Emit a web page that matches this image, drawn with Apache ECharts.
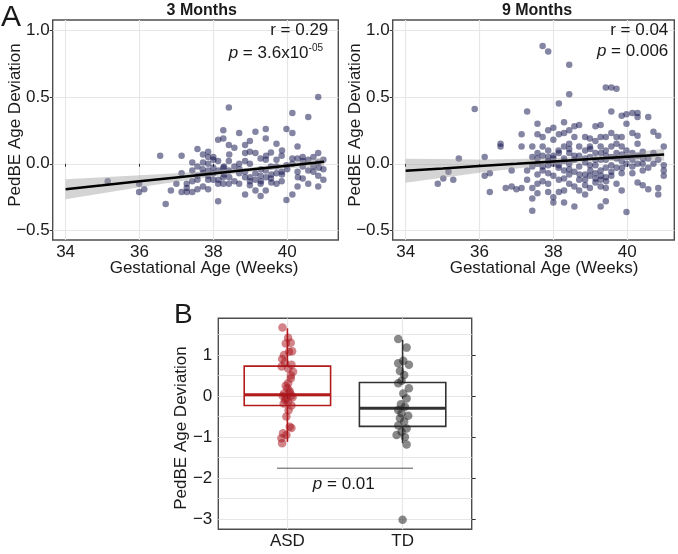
<!DOCTYPE html>
<html><head><meta charset="utf-8">
<script src="https://cdn.jsdelivr.net/npm/echarts@6/dist/echarts.min.js"></script>
<style>html,body{margin:0;padding:0;background:#fff}#c{width:678px;height:554px}</style>
</head><body><div id="c"></div>
<script>
// ---------------- DATA ----------------
// Panel A, 3 months: [gestational age (weeks), PedBE age deviation]
const months3 = [[35.14,-0.13],[35.99,-0.15],[35.99,-0.21],[36.13,-0.19],[36.56,0.06],[36.71,-0.30],[36.85,-0.20],[37.0,-0.15],[37.14,0.06],[37.14,-0.07],[37.14,-0.21],[37.28,-0.15],[37.28,-0.18],[37.28,-0.21],[37.43,0.01],[37.43,-0.05],[37.43,-0.13],[37.43,-0.21],[37.57,0.11],[37.57,-0.02],[37.57,-0.12],[37.57,-0.19],[37.72,0.07],[37.72,0.01],[37.72,-0.07],[37.72,-0.17],[37.86,0.09],[37.86,0.05],[37.86,0.0],[37.86,-0.05],[37.86,-0.12],[37.86,-0.19],[38.0,0.03],[38.0,-0.03],[38.0,-0.07],[38.0,-0.12],[38.13,0.18],[38.13,0.02],[38.13,-0.15],[38.13,-0.28],[38.27,0.25],[38.27,0.19],[38.27,-0.03],[38.27,-0.10],[38.27,-0.15],[38.42,0.42],[38.42,0.14],[38.42,0.02],[38.42,-0.05],[38.42,-0.15],[38.57,0.12],[38.57,-0.02],[38.57,-0.13],[38.70,0.23],[38.70,0.0],[38.70,-0.07],[38.70,-0.15],[38.86,0.14],[38.86,0.08],[38.86,-0.10],[38.86,-0.23],[38.99,0.17],[38.99,0.09],[38.99,0.0],[38.99,-0.13],[38.99,-0.16],[39.14,0.24],[39.14,0.08],[39.14,-0.07],[39.14,-0.20],[39.28,0.04],[39.28,-0.09],[39.28,-0.15],[39.28,-0.24],[39.42,0.26],[39.42,0.19],[39.42,0.03],[39.42,-0.05],[39.42,-0.20],[39.56,0.085],[39.56,-0.02],[39.56,-0.11],[39.71,0.15],[39.71,0.03],[39.71,-0.07],[39.71,-0.15],[39.85,0.06],[39.85,-0.06],[39.85,-0.13],[39.98,0.26],[39.98,-0.01],[39.98,-0.27],[40.14,0.38],[40.14,0.23],[40.14,0.04],[40.14,-0.23],[40.28,0.13],[40.28,0.04],[40.28,-0.06],[40.28,-0.17],[40.42,0.05],[40.42,-0.02],[40.42,-0.11],[40.57,0.35],[40.57,0.03],[40.57,-0.05],[40.57,-0.15],[40.71,0.05],[40.71,-0.02],[40.84,0.50],[40.84,0.08],[40.84,0.01],[40.84,-0.09],[40.84,-0.17],[40.98,0.03],[40.98,-0.04],[40.98,-0.12],
[37.86,-0.09],[38.14,-0.05],[38.14,-0.12],[38.29,-0.08],[38.43,-0.10],[38.71,-0.04],[38.86,-0.06],[39.0,-0.10],[39.14,-0.12],[39.29,-0.04],[39.29,-0.13],[39.43,-0.10],[39.57,-0.08],[39.57,-0.14],[39.71,-0.02],[39.86,-0.08],[40.0,-0.04],[40.14,0.0],[40.29,-0.10],[40.43,0.02],[40.71,-0.06],[40.86,-0.03],[38.0,0.05],[38.43,0.07],[38.86,0.02],[39.43,0.06],[39.86,0.1],[37.57,-0.09],[37.71,-0.04],[38.29,-0.02]];

// Panel A, 9 months
const months9 = [[34.87,-0.15],[35.02,-0.11],[35.16,-0.06],[35.29,-0.12],[35.44,0.04],[35.87,0.41],[36.14,-0.09],[36.14,0.05],[36.28,-0.07],[36.28,-0.21],[36.57,0.15],[36.57,0.13],[36.71,-0.18],[36.87,-0.05],[36.87,-0.17],[37.0,-0.19],[37.14,0.22],[37.14,0.13],[37.14,-0.18],[37.29,0.39],[37.29,-0.05],[37.29,-0.12],[37.43,0.13],[37.43,0.05],[37.43,-0.02],[37.43,-0.18],[37.43,-0.26],[37.43,-0.35],[37.57,0.30],[37.57,0.22],[37.57,0.08],[37.57,0.0],[37.57,-0.08],[37.57,-0.15],[37.57,-0.22],[37.71,0.88],[37.71,0.20],[37.71,0.13],[37.71,0.06],[37.71,-0.05],[37.71,-0.13],[37.86,0.84],[37.86,0.25],[37.86,0.10],[37.86,0.05],[37.86,-0.01],[37.86,-0.07],[37.86,-0.15],[37.86,-0.21],[38.0,0.27],[38.0,0.18],[38.0,0.06],[38.0,0.0],[38.0,-0.09],[38.0,-0.25],[38.0,-0.29],[38.15,0.45],[38.15,0.22],[38.15,0.08],[38.15,-0.01],[38.15,-0.12],[38.15,-0.21],[38.29,0.31],[38.29,0.23],[38.29,0.13],[38.29,0.04],[38.29,-0.05],[38.29,-0.20],[38.29,-0.29],[38.43,0.74],[38.43,0.52],[38.43,0.25],[38.43,0.15],[38.43,0.08],[38.43,0.0],[38.43,-0.08],[38.43,-0.15],[38.57,0.28],[38.57,0.20],[38.57,0.03],[38.57,-0.06],[38.57,-0.17],[38.57,-0.32],[38.70,0.29],[38.70,0.13],[38.70,0.06],[38.70,-0.02],[38.70,-0.12],[38.70,-0.20],[38.86,0.20],[38.86,0.10],[38.86,0.01],[38.86,-0.08],[38.86,-0.16],[38.86,-0.23],[38.99,0.19],[38.99,0.13],[38.99,0.05],[38.99,-0.01],[38.99,-0.09],[38.99,-0.18],[39.14,0.28],[39.14,0.17],[39.14,0.08],[39.14,-0.01],[39.14,-0.07],[39.14,-0.14],[39.28,0.29],[39.28,0.20],[39.28,0.13],[39.28,0.03],[39.28,-0.05],[39.28,-0.12],[39.28,-0.17],[39.28,-0.32],[39.42,0.57],[39.42,0.20],[39.42,0.10],[39.42,0.03],[39.42,-0.03],[39.42,-0.10],[39.42,-0.18],[39.42,-0.28],[39.57,0.57],[39.57,0.39],[39.57,0.23],[39.57,0.13],[39.57,0.05],[39.57,-0.01],[39.57,-0.09],[39.71,0.56],[39.71,0.20],[39.71,0.15],[39.71,0.04],[39.71,-0.03],[39.71,-0.15],[39.85,0.36],[39.85,0.20],[39.85,0.13],[39.85,0.02],[39.85,-0.07],[39.85,-0.20],[39.98,0.37],[39.98,0.30],[39.98,0.10],[39.98,0.0],[39.98,-0.36],[40.14,0.38],[40.14,0.23],[40.14,0.08],[40.14,0.03],[40.14,-0.07],[40.28,0.38],[40.28,0.35],[40.28,0.21],[40.28,0.15],[40.28,0.0],[40.28,-0.14],[40.42,0.09],[40.42,0.0],[40.42,-0.05],[40.42,-0.16],[40.57,0.35],[40.57,0.04],[40.57,-0.03],[40.57,-0.19],[40.71,0.24],[40.71,0.08],[40.71,0.0],[40.84,0.21],[40.84,0.03],[40.84,-0.18],[40.84,-0.23],[40.99,0.13],[40.99,-0.01],[40.99,-0.05],[40.99,-0.09],
[38.0,0.04],[38.14,-0.03],[38.29,0.02],[38.43,-0.04],[38.57,0.06],[38.71,-0.08],[38.86,0.04],[39.0,-0.05],[39.14,0.03],[39.29,-0.09],[39.43,0.06],[39.57,-0.06],[39.71,0.08],[39.86,-0.03],[40.0,0.05],[40.14,-0.02],[40.29,0.06],[37.86,0.02],[37.71,-0.02],[38.29,-0.11],[38.86,-0.12],[39.29,0.08],[39.43,-0.13],[39.0,0.11],[38.43,0.11],[39.86,0.07],[40.43,0.04],[37.57,0.04],[38.14,0.10],[39.14,-0.11]];

// Linear fit and 95% band
const fitX  = [34, 35, 36, 37, 38, 39, 40, 41];
const fit3  = [-0.190, -0.161, -0.131, -0.102, -0.073, -0.043, -0.014, 0.015];
const lo3   = [-0.265, -0.221, -0.176, -0.134, -0.095, -0.059, -0.034, -0.019];
const hi3   = [-0.115, -0.101, -0.086, -0.070, -0.051, -0.027, 0.006, 0.049];
const fit9  = [-0.052, -0.035, -0.017, 0.000, 0.018, 0.035, 0.053, 0.070];
const lo9   = [-0.142, -0.105, -0.067, -0.035, -0.007, 0.015, 0.028, 0.025];
const hi9   = [0.038, 0.035, 0.033, 0.035, 0.043, 0.055, 0.078, 0.115];

const gaTicks  = [34, 36, 38, 40];
const devTicks = [-0.5, 0, 0.5, 1.0];

// Panel B
const groups = ['ASD', 'TD'];
const asdVals = [1.67,1.42,1.28,1.30,1.08,1.09,0.90,0.82,0.76,0.67,0.59,0.43,0.31,0.19,0.12,0.06,0.01,-0.06,-0.14,-0.18,-0.23,-0.50,-0.75,-0.78,-0.91,-0.95,-1.03,-1.15,0.0,-0.03,0.08,-0.10,0.25,0.50,-0.35,1.00,0.72];
const asdJit  = [-0.043,0.006,-0.014,0.029,0.014,0.041,-0.046,-0.023,0.035,0.006,0.049,0.029,0.006,0.0,0.02,-0.029,0.035,-0.009,0.006,-0.032,0.035,-0.009,0.02,0.035,-0.038,-0.009,-0.052,-0.046,-0.04,0.045,0.02,-0.02,-0.015,0.03,0.01,-0.03,-0.05];
const tdVals  = [1.39,1.18,0.86,0.80,0.76,0.61,0.51,0.37,0.31,0.19,0.06,-0.06,-0.20,-0.26,-0.34,-0.42,-0.48,-0.54,-0.62,-0.72,-0.79,-0.87,-0.95,-1.00,-1.18,-3.02];
const tdJit   = [-0.038,0.035,0.006,-0.038,0.055,-0.023,0.014,-0.009,-0.038,0.055,0.006,0.035,-0.014,0.02,-0.038,-0.009,0.049,-0.023,0.014,-0.038,0.035,-0.009,-0.052,0.02,0.035,0.0];
// [min whisker, Q1, median, Q3, max whisker]
const asdBox = [-1.12, -0.23, 0.03, 0.73, 1.65];
const tdBox  = [-1.15, -0.74, -0.30, 0.33, 1.37];
const bTicks = [-3, -2, -1, 0, 1];
const bGridVals = [-3, -2.5, -2, -1.5, -1, -0.5, 0, 0.5, 1, 1.5];
const sigX = [0.91, 2.09];
const sigY = -1.76;

// ---------------- CHART ----------------
const FONT = "'Liberation Sans', Arial, Helvetica, sans-serif";
const TXT = '#1a1a1a';
const GRIDC = '#e6e6e6';
const BORDER = '#4d4d4d';
const PT = 'rgba(20,20,80,0.66)';
const boxColors = ['#b31b1b', '#333333'];

const minus = s => s.replace('-', '\u2212');
const fmt1 = v => minus(v.toFixed(1));
const fmtInt = v => minus(String(Math.round(v)));

function valAxis(gi, min, max, ticks, formatter, margin, gridVals) {
  return {
    type: 'value', gridIndex: gi, min: min, max: max,
    axisLine: { show: false },
    axisTick: { show: true, customValues: gridVals || ticks, length: 3, lineStyle: { color: '#333', width: 1 } },
    axisLabel: { customValues: ticks, formatter: formatter, fontSize: 17, color: TXT, fontFamily: FONT, margin: margin },
    splitLine: { show: true, lineStyle: { color: GRIDC, width: 1.2 } }
  };
}

function bandRender(lo, hi) {
  return function (params, api) {
    const pts = [];
    for (let i = 0; i < fitX.length; i++) pts.push(api.coord([fitX[i], hi[i]]));
    for (let i = fitX.length - 1; i >= 0; i--) pts.push(api.coord([fitX[i], lo[i]]));
    return { type: 'polygon', shape: { points: pts }, style: { fill: 'rgba(153,153,153,0.42)' } };
  };
}

function boxRender(params, api) {
  const x = api.value(0), mn = api.value(1), q1 = api.value(2), md = api.value(3), q3 = api.value(4), mx = api.value(5);
  const half = 0.375;
  const tl = api.coord([x - half, q3]), br = api.coord([x + half, q1]);
  const pMax = api.coord([x, mx]), pMin = api.coord([x, mn]);
  const mL = api.coord([x - half, md]), mR = api.coord([x + half, md]);
  const col = boxColors[params.dataIndex];
  return {
    type: 'group', children: [
      { type: 'line', shape: { x1: pMax[0], y1: pMax[1], x2: pMax[0], y2: tl[1] }, style: { stroke: col, lineWidth: 1.6 } },
      { type: 'line', shape: { x1: pMin[0], y1: br[1], x2: pMin[0], y2: pMin[1] }, style: { stroke: col, lineWidth: 1.6 } },
      { type: 'rect', shape: { x: tl[0], y: tl[1], width: br[0] - tl[0], height: br[1] - tl[1] }, style: { fill: 'rgba(255,255,255,0)', stroke: col, lineWidth: 1.6 } },
      { type: 'line', shape: { x1: mL[0], y1: mL[1], x2: mR[0], y2: mR[1] }, style: { stroke: col, lineWidth: 3 } }
    ]
  };
}

function txt(x, y, text, opt) {
  opt = opt || {};
  const st = Object.assign({
    text: text, x: 0, y: 0, fill: TXT, fontSize: 17, fontFamily: FONT,
    align: 'center', verticalAlign: 'middle', textAlign: 'center', textVerticalAlign: 'middle'
  }, opt.style || {});
  return { type: 'text', x: x, y: y, z: 100, zlevel: 0, rotation: opt.rotation || 0, style: st, silent: true };
}
const right = { align: 'right', textAlign: 'right' };
const left = { align: 'left', textAlign: 'left' };

const chart = echarts.init(document.getElementById('c'), null, { renderer: 'canvas' });
const gridBase = { show: true, borderColor: BORDER, borderWidth: 1.4, backgroundColor: 'rgba(0,0,0,0)', containLabel: false };

const option = {
  animation: false,
  textStyle: { fontFamily: FONT },
  grid: [
    Object.assign({ left: 52.7, top: 20, width: 285.6, height: 220 }, gridBase),
    Object.assign({ left: 392.7, top: 20, width: 281.6, height: 220 }, gridBase),
    Object.assign({ left: 218.3, top: 318.3, width: 253.4, height: 211 }, gridBase)
  ],
  xAxis: [
    valAxis(0, 33.65, 41.384, gaTicks, v => String(v), 4),
    valAxis(1, 33.65, 41.275, gaTicks, v => String(v), 4),
    valAxis(2, 0.4, 2.6, [1, 2], v => groups[Math.round(v) - 1], 4)
  ],
  yAxis: [
    valAxis(0, -0.5695, 1.0747, devTicks, fmt1, 3),
    valAxis(1, -0.5695, 1.0747, devTicks, fmt1, 3),
    Object.assign(valAxis(2, -3.25, 1.895, bTicks, fmtInt, 6, bGridVals), { axisTick: { show: false, customValues: bGridVals } }),
    { type: 'value', gridIndex: 2, min: -3.25, max: 1.895, axisLine: { show: false },
      axisTick: { show: true, customValues: bTicks, length: 4, lineStyle: { color: '#333', width: 1 } },
      axisLabel: { show: false }, splitLine: { show: false } }
  ],
  series: [
    { type: 'scatter', xAxisIndex: 0, yAxisIndex: 0, data: months3, symbolSize: 6.5, itemStyle: { color: PT }, silent: true, z: 2 },
    { type: 'custom', xAxisIndex: 0, yAxisIndex: 0, data: [[fitX[0], fit3[0]]], renderItem: bandRender(lo3, hi3), silent: true, z: 3, clip: true },
    { type: 'line', xAxisIndex: 0, yAxisIndex: 0, data: fitX.map((x, i) => [x, fit3[i]]), symbol: 'none', lineStyle: { color: '#000', width: 2.5 }, silent: true, z: 4 },
    { type: 'scatter', xAxisIndex: 1, yAxisIndex: 1, data: months9, symbolSize: 6.5, itemStyle: { color: PT }, silent: true, z: 2 },
    { type: 'custom', xAxisIndex: 1, yAxisIndex: 1, data: [[fitX[0], fit9[0]]], renderItem: bandRender(lo9, hi9), silent: true, z: 3, clip: true },
    { type: 'line', xAxisIndex: 1, yAxisIndex: 1, data: fitX.map((x, i) => [x, fit9[i]]), symbol: 'none', lineStyle: { color: '#000', width: 2.5 }, silent: true, z: 4 },
    { type: 'custom', xAxisIndex: 2, yAxisIndex: 2, data: [[1].concat(asdBox), [2].concat(tdBox)], renderItem: boxRender, silent: true, z: 2 },
    { type: 'scatter', xAxisIndex: 2, yAxisIndex: 2, data: asdVals.map((v, i) => [1 + asdJit[i], v]), symbolSize: 8.5, itemStyle: { color: 'rgba(170,20,28,0.66)' }, silent: true, z: 3 },
    { type: 'scatter', xAxisIndex: 2, yAxisIndex: 2, data: tdVals.map((v, i) => [2 + tdJit[i], v]), symbolSize: 8.5, itemStyle: { color: 'rgba(30,30,30,0.66)' }, silent: true, z: 3 },
    { type: 'line', xAxisIndex: 2, yAxisIndex: 2, data: [[sigX[0], sigY], [sigX[1], sigY]], symbol: 'none', lineStyle: { color: '#555', width: 1 }, silent: true, z: 3 }
  ],
  graphic: { elements: [
    txt(1, 18, 'A', { style: Object.assign({ fontSize: 30 }, left) }),
    txt(201.7, 11, '3 Months', { style: { fontSize: 16, fontWeight: 'bold' } }),
    txt(537, 11, '9 Months', { style: { fontSize: 16, fontWeight: 'bold' } }),
    txt(328.3, 30.6, 'r = 0.29', { style: right }),
    txt(323, 53, '{i|p} = 3.6x10{s|-05}', { style: Object.assign({
      rich: { i: { fontStyle: 'italic', fontSize: 17, fontFamily: FONT, fill: TXT, lineHeight: 20, verticalAlign: 'middle' },
              s: { fontSize: 10, fontFamily: FONT, fill: TXT, lineHeight: 11, verticalAlign: 'top' } },
      lineHeight: 20 }, right) }),
    txt(668.3, 30.6, 'r = 0.04', { style: right }),
    txt(668.3, 51.3, '{i|p} = 0.006', { style: Object.assign({
      rich: { i: { fontStyle: 'italic', fontSize: 17, fontFamily: FONT, fill: TXT } } }, right) }),
    txt(15.5, 125, 'PedBE Age Deviation', { rotation: Math.PI / 2 }),
    txt(355.5, 125, 'PedBE Age Deviation', { rotation: Math.PI / 2 }),
    txt(204, 268, 'Gestational Age (Weeks)'),
    txt(544, 268, 'Gestational Age (Weeks)'),
    txt(174, 315, 'B', { style: Object.assign({ fontSize: 28 }, left) }),
    txt(181.7, 428, 'PedBE Age Deviation', { rotation: Math.PI / 2 }),
    txt(343.8, 484, '{i|p} = 0.01', { style: {
      rich: { i: { fontStyle: 'italic', fontSize: 17, fontFamily: FONT, fill: TXT } } } })
  ] }
};
chart.setOption(option);
</script></body></html>
